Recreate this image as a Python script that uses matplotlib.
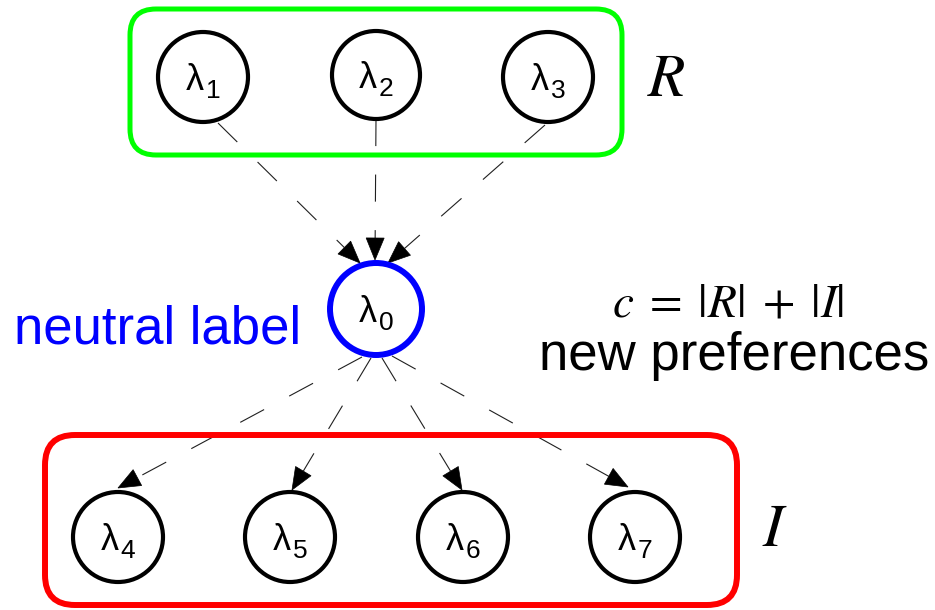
import numpy as np
import matplotlib
matplotlib.use("Agg")
import matplotlib.pyplot as plt
from matplotlib.patches import Ellipse, FancyBboxPatch, Polygon

# node layout (pixel space, y grows downwards)
node_ids = [0, 1, 2, 3, 4, 5, 6, 7]
node_x = [376, 203, 376, 548, 118, 290, 463, 635]
node_y = [309, 77, 75, 77, 537, 537, 537, 537]
node_r = [46, 45, 44, 45, 45, 45, 45, 45]

# edges: source -> target, with start point and arrow tip on the circles
edge_src = [1, 2, 3, 0, 0, 0, 0]
edge_dst = [0, 0, 0, 4, 5, 6, 7]
start_x = [218, 376, 545, 362, 371, 382, 392]
start_y = [123, 119, 125, 357, 358, 358, 356]
tip_x = [360, 375, 388, 118, 292, 462, 628]
tip_y = [263, 260, 263, 488, 490, 490, 487]

W, H = 935, 610
fig = plt.figure(figsize=(W / 100, H / 100), dpi=100)
ax = fig.add_axes([0, 0, 1, 1])
ax.set_xlim(0, W)
ax.set_ylim(H, 0)
ax.axis("off")

# group boxes (drawn over the edges, as in the original)
ax.add_patch(FancyBboxPatch((130, 9), 492, 146, boxstyle="round,pad=0,rounding_size=26",
                            fc="none", ec="#00ff00", lw=3.6, zorder=5))
ax.add_patch(FancyBboxPatch((45, 435), 692, 170, boxstyle="round,pad=0,rounding_size=30",
                            fc="none", ec="#ff0000", lw=4.3, zorder=5))

# nodes
for i, x, y, r in zip(node_ids, node_x, node_y, node_r):
    color = "#0000ff" if i == 0 else "black"
    lw = 4.3 if i == 0 else 3.0
    ax.add_patch(Ellipse((x, y), 2 * r, 2 * r, fc="white", ec=color, lw=lw, zorder=3))
    ax.text(x - 8, y + 3, "λ", fontsize=26, family="Liberation Sans",
            ha="center", va="center", zorder=4)
    ax.text(x + 10, y + 14, str(i), fontsize=19, family="Liberation Sans",
            ha="center", va="center", zorder=4)

# dashed edges with filled arrowheads
head_len, head_w = 22, 9
edge_lw = 0.8
for sx, sy, tx, ty in zip(start_x, start_y, tip_x, tip_y):
    d = np.array([tx - sx, ty - sy], dtype=float)
    d /= np.hypot(*d)
    n = np.array([-d[1], d[0]])
    base = np.array([tx, ty]) - head_len * d
    ax.plot([sx, base[0]], [sy, base[1]], color="#202020", lw=edge_lw,
            dashes=(19.5 / edge_lw, 20.5 / edge_lw), zorder=2)
    ax.add_patch(Polygon([(tx, ty), base + head_w * n, base - head_w * n],
                         closed=True, fc="black", ec="black", lw=0.5, zorder=2))

# annotations
ax.text(666, 79, "$R$", fontsize=44, ha="center", va="center",
        math_fontfamily="stix")
ax.text(775, 530, "$I$", fontsize=44, ha="center", va="center",
        math_fontfamily="stix")
ax.text(158, 330, "neutral label", fontsize=38, color="#0000ff",
        family="Liberation Sans", ha="center", va="center")
ax.text(728, 304, r"$c\;=\;|R|\;+\;|I|$", fontsize=34, ha="center", va="center",
        math_fontfamily="stix")
ax.text(734, 356, "new preferences", fontsize=38, family="Liberation Sans",
        ha="center", va="center")

fig.savefig("out.png", dpi=100)
